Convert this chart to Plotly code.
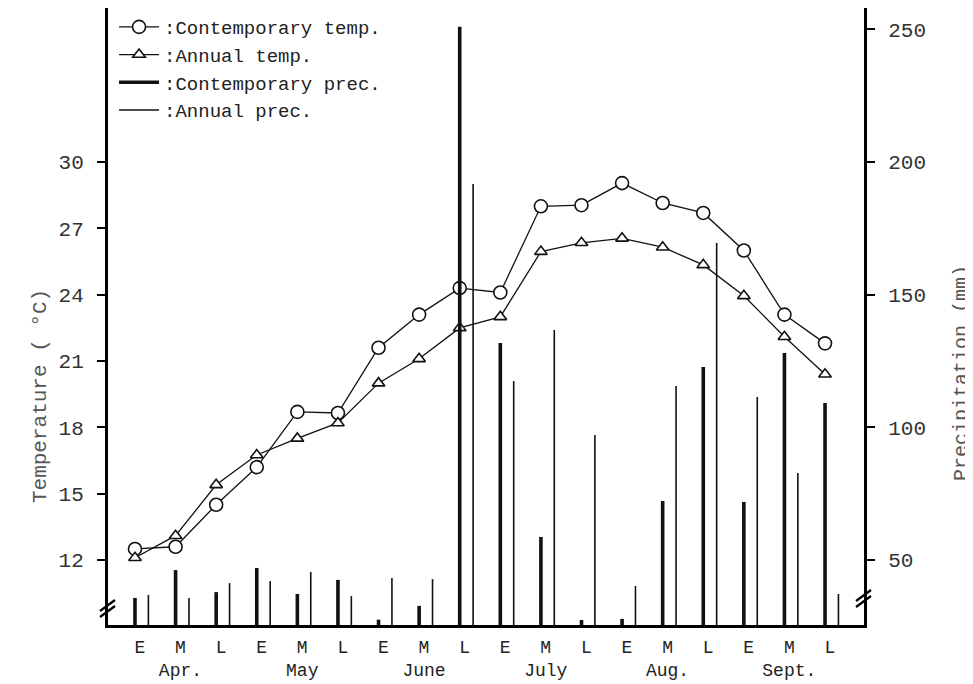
import plotly.graph_objects as go

# ---------------- data ----------------
periods = ["E", "M", "L"] * 6
months = ["Apr.", "May", "June", "July", "Aug.", "Sept."]

contemp_temp = [12.5, 12.6, 14.5, 16.2, 18.7, 18.65, 21.6, 23.1, 24.3, 24.1, 28.0, 28.05,
                29.05, 28.15, 27.7, 26.0, 23.1, 21.8]
annual_temp = [12.1, 13.1, 15.4, 16.75, 17.5, 18.2, 20.0, 21.1, 22.5, 23.0, 25.95, 26.35,
               26.55, 26.15, 25.35, 23.95, 22.1, 20.4]

contemp_prec = [35.7, 46.2, 37.9, 47.0, 37.2, 42.5, 27.5, 32.7, 251.0, 131.8, 58.7, 27.4,
                27.8, 72.2, 122.8, 71.9, 128.0, 109.2]
annual_prec = [36.8, 35.7, 41.3, 42.1, 45.5, 36.4, 43.2, 42.8, 191.7, 117.5, 136.7, 97.1,
               40.2, 115.6, 169.5, 111.4, 82.8, 37.2]

temp_ticks = [12, 15, 18, 21, 24, 27, 30]
prec_ticks = [50, 100, 150, 200, 250]
prec_base = 0

# ---------------- layout constants ----------------
FONT = "Liberation Mono"
T_LO, T_HI = 9.06, 36.97


def t_to_p(t):
    # 12 degC <-> 50 mm, 30 degC <-> 200 mm
    return 50 + (t - 12) * 50 / 6


n = len(periods)
xs = list(range(n))
thin_off = 0.33


def spikes(values, off):
    x, y = [], []
    for i, v in enumerate(values):
        x += [i + off, i + off, None]
        y += [prec_base, v, None]
    return x, y


cx, cy = spikes(contemp_prec, 0.0)
ax_, ay = spikes(annual_prec, thin_off)

fig = go.Figure()
fig.add_trace(go.Scatter(
    x=xs, y=contemp_temp, mode="lines+markers", name=":Contemporary temp.",
    line=dict(color="#111", width=1.3),
    marker=dict(symbol="circle", size=13, color="white", line=dict(color="#111", width=1.6)),
))
fig.add_trace(go.Scatter(
    x=xs, y=annual_temp, mode="lines+markers", name=":Annual temp.",
    line=dict(color="#111", width=1.3),
    marker=dict(symbol="triangle-up", size=11, color="white", line=dict(color="#111", width=1.6)),
))
fig.add_trace(go.Scatter(
    x=cx, y=cy, mode="lines", name=":Contemporary prec.", yaxis="y2",
    line=dict(color="#111", width=3.6),
))
fig.add_trace(go.Scatter(
    x=ax_, y=ay, mode="lines", name=":Annual prec.", yaxis="y2",
    line=dict(color="#111", width=1.6),
))

ticktext = []
for i, p in enumerate(periods):
    if p == "M":
        ticktext.append("M<br>" + months[i // 3])
    else:
        ticktext.append(p)

fig.update_layout(
    width=965, height=676,
    margin=dict(l=100, r=109, t=0, b=59, autoexpand=False),
    paper_bgcolor="white", plot_bgcolor="white",
    font=dict(family=FONT, size=20, color="#222"),
    showlegend=True,
    legend=dict(
        x=0.008, y=1.0, xanchor="left", yanchor="top",
        bgcolor="rgba(0,0,0,0)", font=dict(family=FONT, size=19, color="#222"),
        itemwidth=40, tracegroupgap=0,
    ),
    xaxis=dict(
        range=[-0.665, 17.96], showgrid=False, zeroline=False, automargin=False,
        showline=True, linecolor="black", linewidth=3,
        tickmode="array", tickvals=[i + 0.12 for i in xs], ticktext=ticktext,
        ticks="", tickfont=dict(family=FONT, size=18, color="#222"),
        ticklabelstandoff=3,
    ),
    yaxis=dict(
        range=[T_LO, T_HI], showgrid=False, zeroline=False, automargin=False,
        showline=True, linecolor="black", linewidth=3,
        tickmode="array", tickvals=temp_ticks, ticks="outside", ticklen=8,
        tickwidth=2, tickcolor="black",
        tickfont=dict(family=FONT, size=21, color="#333"), ticklabelstandoff=9,
    ),
    yaxis2=dict(
        range=[t_to_p(T_LO), t_to_p(T_HI)], overlaying="y", side="right",
        showgrid=False, zeroline=False, automargin=False,
        showline=True, linecolor="black", linewidth=3,
        tickmode="array", tickvals=prec_ticks, ticks="outside", ticklen=8,
        tickwidth=2, tickcolor="black",
        tickfont=dict(family=FONT, size=21, color="#333"), ticklabelstandoff=9,
    ),
    annotations=[
        dict(text="Temperature ( °C)", xref="paper", yref="paper", x=-0.09, y=0.371,
             xanchor="center", yanchor="middle", textangle=-90, showarrow=False,
             font=dict(family=FONT, size=21, color="#555")),
        dict(text="Precipitation (mm)", xref="paper", yref="paper", x=1.128, y=0.408,
             xanchor="center", yanchor="middle", textangle=-90, showarrow=False,
             font=dict(family=FONT, size=20, color="#555")),
    ],
)

# axis-break marks
shapes = []
for xa, offs in ((0, (8, 14)), (1, (18, 24))):
    for o in offs:
        shapes.append(dict(type="line", xref="paper", yref="paper",
                           xsizemode="pixel", ysizemode="pixel", xanchor=xa, yanchor=0,
                           x0=-8, x1=7, y0=o, y1=o + 11,
                           line=dict(color="black", width=2.2)))
fig.update_layout(shapes=shapes)

fig.write_html("out.html")
